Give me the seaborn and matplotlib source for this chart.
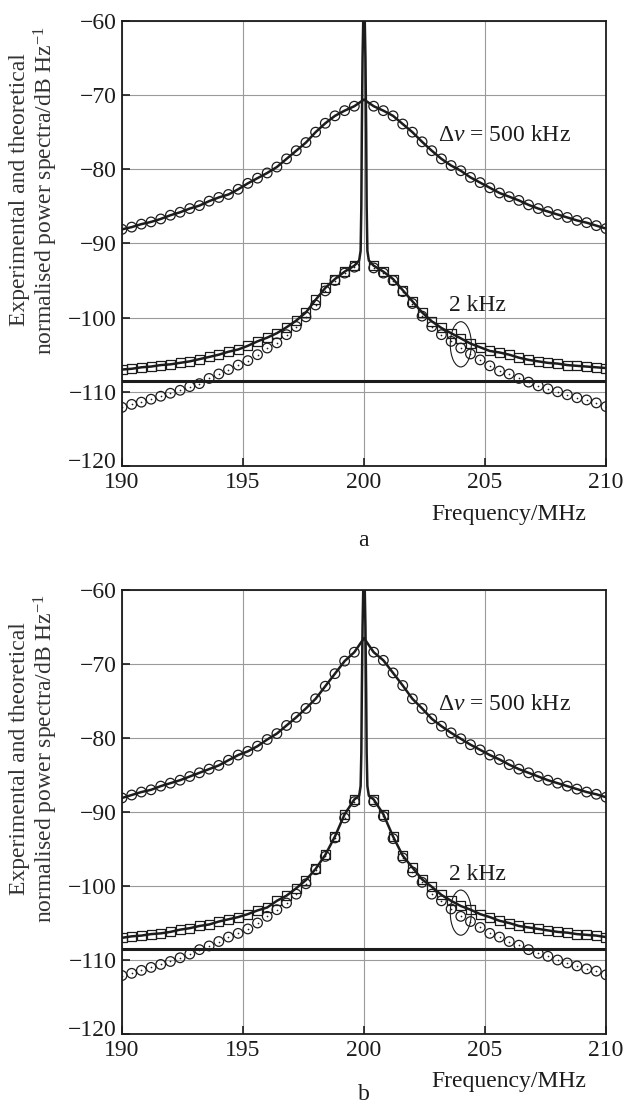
"""Experimental vs theoretical normalised power spectra (panels a and b)."""
import matplotlib
matplotlib.use("Agg")
import matplotlib.pyplot as plt
import matplotlib.transforms as mtransforms
from matplotlib.patches import Ellipse
import pandas as pd
import seaborn as sns

# frequencies of the experimental points (MHz), the 200 MHz carrier is not sampled
FREQ = [190.0, 190.4, 190.8, 191.2, 191.6, 192.0, 192.4, 192.8, 193.2, 193.6,
        194.0, 194.4, 194.8, 195.2, 195.6, 196.0, 196.4, 196.8, 197.2, 197.6,
        198.0, 198.4, 198.8, 199.2, 199.6,
        200.4, 200.8, 201.2, 201.6, 202.0, 202.4, 202.8, 203.2, 203.6, 204.0,
        204.4, 204.8, 205.2, 205.6, 206.0, 206.4, 206.8, 207.2, 207.6, 208.0,
        208.4, 208.8, 209.2, 209.6, 210.0]

# panel a
WIDE_A = [-88.1, -87.8, -87.4, -87.1, -86.7, -86.2, -85.8, -85.3, -84.9, -84.3,
          -83.8, -83.4, -82.7, -81.9, -81.2, -80.5, -79.7, -78.6, -77.5, -76.4,
          -75.0, -73.8, -72.8, -72.1, -71.5,
          -71.5, -72.1, -72.8, -73.9, -75.0, -76.3, -77.5, -78.6, -79.5, -80.2,
          -81.1, -81.8, -82.5, -83.2, -83.7, -84.2, -84.8, -85.3, -85.7, -86.1,
          -86.5, -86.9, -87.2, -87.6, -88.0]
SQ_A = [-107.0, -106.9, -106.7, -106.6, -106.4, -106.3, -106.1, -105.9, -105.6, -105.3,
        -105.0, -104.6, -104.3, -103.8, -103.2, -102.7, -102.1, -101.3, -100.4, -99.3,
        -97.6, -96.0, -94.8, -93.8, -93.0,
        -93.0, -93.8, -94.8, -96.3, -97.8, -99.3, -100.5, -101.4, -102.1, -102.8,
        -103.5, -104.0, -104.5, -104.7, -105.0, -105.4, -105.7, -105.9, -106.1, -106.2,
        -106.4, -106.5, -106.6, -106.7, -106.8]
LOW_A = [-112.1, -111.7, -111.4, -111.0, -110.6, -110.2, -109.8, -109.3, -108.9, -108.2,
         -107.6, -107.0, -106.4, -105.8, -105.0, -104.1, -103.4, -102.3, -101.2, -99.9,
         -98.3, -96.4, -95.0, -94.0, -93.2,
         -93.3, -94.0, -95.0, -96.5, -98.1, -99.8, -101.2, -102.3, -103.2, -104.1,
         -104.9, -105.7, -106.5, -107.2, -107.6, -108.2, -108.7, -109.2, -109.6, -110.0,
         -110.4, -110.8, -111.1, -111.5, -112.0]

# panel b
WIDE_B = [-88.1, -87.7, -87.3, -87.0, -86.5, -86.1, -85.7, -85.2, -84.7, -84.2,
          -83.7, -83.0, -82.3, -81.8, -81.1, -80.2, -79.4, -78.3, -77.2, -76.0,
          -74.7, -73.0, -71.3, -69.6, -68.4,
          -68.4, -69.5, -71.2, -72.9, -74.7, -76.0, -77.4, -78.4, -79.3, -80.1,
          -80.9, -81.6, -82.3, -82.9, -83.6, -84.2, -84.7, -85.2, -85.7, -86.1,
          -86.5, -86.9, -87.3, -87.6, -88.0]
SQ_B = [-107.0, -106.8, -106.7, -106.5, -106.4, -106.2, -105.9, -105.7, -105.4, -105.2,
        -104.8, -104.5, -104.2, -103.8, -103.3, -102.9, -102.0, -101.3, -100.3, -99.2,
        -97.7, -95.8, -93.3, -90.3, -88.3,
        -88.3, -90.3, -93.3, -95.9, -97.5, -99.1, -100.1, -101.2, -102.0, -102.7,
        -103.2, -103.8, -104.2, -104.7, -105.0, -105.4, -105.6, -105.8, -106.0, -106.2,
        -106.3, -106.5, -106.6, -106.7, -106.9]
LOW_B = [-112.1, -111.8, -111.4, -111.0, -110.6, -110.2, -109.7, -109.2, -108.6, -108.1,
         -107.5, -106.9, -106.4, -105.8, -105.0, -104.1, -103.2, -102.3, -101.1, -99.7,
         -97.8, -96.0, -93.5, -90.8, -88.6,
         -88.6, -90.6, -93.6, -96.2, -98.1, -99.5, -101.1, -102.0, -103.1, -104.1,
         -104.8, -105.6, -106.4, -106.9, -107.5, -108.0, -108.6, -109.1, -109.5, -110.0,
         -110.4, -110.8, -111.2, -111.5, -112.0]

# theoretical 500 kHz line value at the carrier
WIDE_PEAK_A = -70.6
WIDE_PEAK_B = -66.5

# the narrow 2 kHz carrier spike of the theoretical curve
SPIKE_F = [199.8, 199.86, 199.89, 199.91, 199.94, 199.98, 200.0,
           200.02, 200.06, 200.09, 200.11, 200.14, 200.2]
SPIKE_A = [-92.3, -91.0, -85.0, -75.0, -65.0, -58.0, -57.0,
           -58.0, -65.0, -75.0, -85.0, -91.0, -92.3]
SPIKE_B = [-87.8, -86.5, -82.0, -74.0, -65.0, -58.0, -57.0,
           -58.0, -65.0, -74.0, -82.0, -86.5, -87.8]

NOISE_FLOOR = -108.5

X_TICKS = [190, 195, 200, 205, 210]
Y_TICKS = [-120, -110, -100, -90, -80, -70, -60]

INK = "#1c1c1c"
FS = 17

sns.set_theme(style="whitegrid")
plt.rcParams["font.family"] = ["Liberation Serif", "DejaVu Serif"]
plt.rcParams["mathtext.fontset"] = "custom"
plt.rcParams["mathtext.rm"] = "Liberation Serif"
plt.rcParams["mathtext.it"] = "Liberation Serif:italic"


def draw_panel(fig, ax, wide, sq, low, wide_peak, spike):
    ax.axhline(NOISE_FLOOR, color=INK, lw=2.2, zorder=3)

    theory_wide = pd.DataFrame({"f": FREQ + [200.0], "p": wide + [wide_peak]})
    sns.lineplot(data=theory_wide, x="f", y="p", ax=ax, color=INK, lw=1.8,
                 estimator=None, sort=True, zorder=4)

    theory_narrow = pd.DataFrame({"f": FREQ + SPIKE_F, "p": sq + spike})
    sns.lineplot(data=theory_narrow, x="f", y="p", ax=ax, color=INK, lw=1.8,
                 estimator=None, sort=True, zorder=4)

    kw = dict(ax=ax, facecolor="none", edgecolor=INK, linewidth=0.9, zorder=5, legend=False)
    sns.scatterplot(x=FREQ, y=wide, marker="o", s=48, **kw)
    sns.scatterplot(x=FREQ, y=sq, marker="s", s=42, **kw)
    sns.scatterplot(x=FREQ, y=low, marker="o", s=48, **kw)
    sns.scatterplot(x=FREQ, y=low, marker="o", s=1.5, ax=ax, color=INK,
                    linewidth=0, zorder=6, legend=False)

    ax.add_patch(Ellipse((204.0, -103.6), 0.87, 6.1, fill=False, lw=0.8,
                         edgecolor=INK, zorder=6))
    ax.text(203.05, -75.5, r"$\Delta\nu$ = 500 kHz", fontsize=FS, va="center",
            ha="left", color=INK)
    ax.text(203.5, -98.4, "2 kHz", fontsize=FS, va="center", ha="left", color=INK)

    ax.set_xlim(190, 210)
    ax.set_ylim(-120, -60)
    ax.set_xticks(X_TICKS)
    ax.set_yticks(Y_TICKS)
    ax.tick_params(axis="both", direction="in", length=6, width=1.2,
                   labelsize=FS, colors=INK, pad=4, bottom=True, left=True)
    ax.grid(True, color="#9a9a9a", lw=0.8)
    for sp in ax.spines.values():
        sp.set_color(INK)
        sp.set_linewidth(1.3)

    # lift the lowest y label a little, as in the original, so it clears "190"
    lift = mtransforms.ScaledTranslation(0, 4 / 72, fig.dpi_scale_trans)
    low_label = ax.get_yticklabels()[0]
    low_label.set_transform(low_label.get_transform() + lift)

    ax.set_xlabel("")
    ax.set_ylabel("Experimental and theoretical\nnormalised power spectra/dB Hz$^{-1}$",
                  fontsize=FS, color="#333333", linespacing=1.1)
    ax.yaxis.set_label_coords(-0.128, 0.62)
    ax.text(0.80, -0.108, "Frequency/MHz", transform=ax.transAxes, fontsize=FS,
            ha="center", va="center", color=INK)


fig = plt.figure(figsize=(6.25, 11.06), dpi=100)
ax_a = fig.add_axes([0.1952, 0.5787, 0.7744, 0.4024])
ax_b = fig.add_axes([0.1952, 0.0651, 0.7744, 0.4014])

draw_panel(fig, ax_a, WIDE_A, SQ_A, LOW_A, WIDE_PEAK_A, SPIKE_A)
draw_panel(fig, ax_b, WIDE_B, SQ_B, LOW_B, WIDE_PEAK_B, SPIKE_B)

fig.text(0.582, (1106 - 540) / 1106, "a", fontsize=FS, ha="center", va="center", color=INK)
fig.text(0.582, (1106 - 1094) / 1106, "b", fontsize=FS, ha="center", va="center", color=INK)

fig.savefig("out.png", dpi=100)
